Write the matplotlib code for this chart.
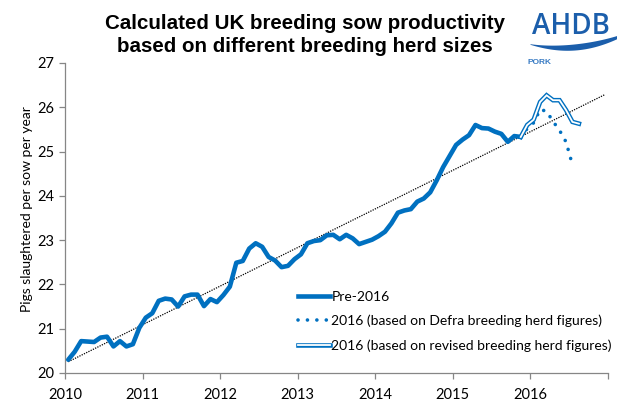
import numpy as np
import matplotlib
matplotlib.use("Agg")
import matplotlib.pyplot as plt
from matplotlib.lines import Line2D

# monthly values, Jan 2010 .. Nov 2015
pre_2016 = [20.30, 20.48, 20.72, 20.71, 20.70, 20.80, 20.82, 20.60, 20.72, 20.60,
            20.65, 21.02, 21.25, 21.35, 21.63, 21.68, 21.66, 21.50, 21.73, 21.77,
            21.77, 21.51, 21.67, 21.60, 21.76, 21.95, 22.49, 22.53, 22.81, 22.93,
            22.85, 22.62, 22.54, 22.39, 22.42, 22.57, 22.68, 22.93, 22.98, 23.00,
            23.11, 23.12, 23.02, 23.12, 23.04, 22.91, 22.96, 23.01, 23.09, 23.19,
            23.38, 23.62, 23.67, 23.70, 23.87, 23.94, 24.08, 24.35, 24.65, 24.90,
            25.15, 25.27, 25.37, 25.60, 25.53, 25.52, 25.45, 25.40, 25.22, 25.35,
            25.33]
# Nov 2015 .. Jul 2016
defra_2016 = [25.33, 25.52, 25.65, 25.95, 25.91, 25.68, 25.48, 25.22, 24.70]
# Nov 2015 .. Aug 2016
revised_2016 = [25.33, 25.60, 25.72, 26.12, 26.27, 26.16, 26.16, 25.94, 25.67, 25.63]

years = [2010, 2011, 2012, 2013, 2014, 2015, 2016, 2017]
year_labels = ['2010', '2011', '2012', '2013', '2014', '2015', '2016', '']
y_ticks = [20, 21, 22, 23, 24, 25, 26, 27]

blue = '#0070C0'
grey = '#868686'
logo_blue = '#1B5EAB'

# mid-month positions in decimal years
x_pre = 2010 + (np.arange(len(pre_2016)) + 0.5) / 12
start = len(pre_2016) - 1
x_defra = 2010 + (np.arange(start, start + len(defra_2016)) + 0.5) / 12
x_rev = 2010 + (np.arange(start, start + len(revised_2016)) + 0.5) / 12

# linear trendline of the pre-2016 series, forecast a year ahead
slope, icpt = np.polyfit(x_pre, pre_2016, 1)
x_trend = np.array([x_pre[0], x_pre[-1] + 13 / 12])

plt.rcParams['font.family'] = ['Lato', 'DejaVu Sans']

fig = plt.figure(figsize=(6.17, 4.01), dpi=100)
ax = fig.add_axes([65 / 617, 1 - 373 / 401, 543 / 617, 310 / 401])
ax.patch.set_visible(False)

ax.plot(x_trend, slope * x_trend + icpt, color='black', lw=0.9,
        linestyle=(0, (1, 1)), zorder=2)
ax.plot(x_pre, pre_2016, color=blue, lw=3.3, solid_capstyle='round',
        solid_joinstyle='round', zorder=3)
ax.plot(x_defra, defra_2016, color=blue, lw=2.6, linestyle=(0, (0.01, 2.6)),
        dash_capstyle='round', zorder=3)
ax.plot(x_rev, revised_2016, color=blue, lw=3.3, solid_joinstyle='miter', zorder=3)
ax.plot(x_rev, revised_2016, color='white', lw=1.3, solid_joinstyle='miter', zorder=4)

ax.set_xlim(2010, 2017)
ax.set_ylim(20, 27)
ax.set_xticks(years)
ax.set_xticklabels(year_labels)
ax.set_yticks(y_ticks)
for s in ['top', 'right']:
    ax.spines[s].set_visible(False)
for s in ['left', 'bottom']:
    ax.spines[s].set_color(grey)
    ax.spines[s].set_linewidth(0.9)
ax.tick_params(colors=grey, labelcolor='black', labelsize=10.5, length=4, width=0.9)
ax.tick_params(axis='x', pad=7)
ax.set_ylabel('Pigs slaughtered per sow per year', fontsize=10)
ax.yaxis.set_label_coords(-0.059, 0.53)

h_pre = Line2D([], [], color=blue, lw=3.3)
h_defra = Line2D([], [], color=blue, lw=2.6, linestyle=(0, (0.01, 2.6)),
                 dash_capstyle='round')
h_rev = (Line2D([], [], color=blue, lw=3.3), Line2D([], [], color='white', lw=1.3))
ax.legend([h_pre, h_defra, h_rev],
          ['Pre-2016', '2016 (based on Defra breeding herd figures)',
           '2016 (based on revised breeding herd figures)'],
          loc='upper left', bbox_to_anchor=(298 / 617, 1 - 291 / 401),
          bbox_transform=fig.transFigure, frameon=False, fontsize=10,
          handlelength=2.3, handletextpad=0.1, borderpad=0, borderaxespad=0,
          labelspacing=0.85)

fig.text(305 / 617, 1 - 35 / 401, 'Calculated UK breeding sow productivity\nbased on different breeding herd sizes',
         ha='center', va='center', fontsize=14.8, fontweight='bold',
         family='Liberation Sans', linespacing=1.3)

# AHDB logo, drawn on a pixel-coordinate overlay
lx = fig.add_axes([0, 0, 1, 1], zorder=5)
lx.set_xlim(0, 617)
lx.set_ylim(401, 0)
lx.axis('off')
lx.patch.set_visible(False)
lx.text(571, 27, 'AHDB', ha='center', va='center', fontsize=20,
        color=logo_blue, family='Open Sans', fontweight='semibold')
t = np.linspace(0, 1, 80)
sx = 530 + 87 * t
centre = 44 + 19.25 * t - 26.25 * t ** 2
half = 2.8 * np.sin(0.85 * np.pi * t) + 0.3
lx.fill_between(sx, centre - half, centre + half, color=logo_blue, lw=0)
lx.text(527, 62, 'PORK', ha='left', va='center', fontsize=6,
        color='#3A7CC4', fontweight='bold', family='Liberation Sans')

fig.savefig('out.png', dpi=100)
